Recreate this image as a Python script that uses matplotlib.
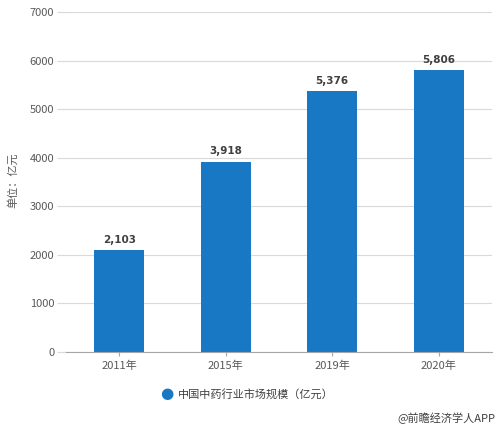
import matplotlib
matplotlib.use("Agg")
from matplotlib import pyplot as plt
import numpy as np

plt.rcParams['font.family'] = ['Noto Sans CJK SC', 'DejaVu Sans']

years = ['2011年', '2015年', '2019年', '2020年']
values = [2103, 3918, 5376, 5806]
y_ticks = [0, 1000, 2000, 3000, 4000, 5000, 6000, 7000]

bar_color = '#1878c4'
grid_color = '#d9d9d9'
text_grey = '#595959'

fig = plt.figure(figsize=(5, 4.3), dpi=100)
ax = fig.add_axes([0.132, 0.1814, 0.852, 0.7906])

x = np.arange(len(years))
bars = ax.bar(x, values, width=0.47, color=bar_color, zorder=3)

# Подписи значений
for xi, v in zip(x, values):
    ax.text(xi, v + 110, f'{v:,}', ha='center', va='bottom',
            fontsize=7.5, fontweight='bold', color='#404040', family='DejaVu Sans')

ax.set_xlim(-0.5, len(years) - 0.5)
ax.set_ylim(0, 7000)
ax.set_yticks(y_ticks)
ax.set_yticklabels([str(t) for t in y_ticks], fontsize=8, color=text_grey)
ax.set_xticks(x)
ax.set_xticklabels(years, fontsize=8, color=text_grey)

ax.grid(True, axis='y', color=grid_color, linewidth=0.8, zorder=0)
ax.tick_params(axis='y', length=6.5, color=grid_color, width=0.8, pad=2)
ax.tick_params(axis='x', length=3, color='#a6a6a6', width=0.8, pad=3)

for side in ['top', 'right', 'left']:
    ax.spines[side].set_visible(False)
ax.spines['bottom'].set_color('#a6a6a6')
ax.spines['bottom'].set_zorder(4)

fig.text(0.026, 0.58, '单位：亿元', rotation=90, ha='center', va='center',
         fontsize=8, color=text_grey)

# Легенда
fig.text(0.333, 1 - 394 / 430, '●', ha='center', va='center',
         fontsize=11, color=bar_color, family='DejaVu Sans')
fig.text(0.356, 1 - 394 / 430, '中国中药行业市场规模（亿元）', ha='left', va='center',
         fontsize=8, color='#404040')

fig.text(0.99, 1 - 418 / 430, '@前瞻经济学人APP', ha='right', va='center',
         fontsize=8, color='#404040')

plt.savefig('out.png', dpi=100, facecolor='white')
plt.close(fig)
